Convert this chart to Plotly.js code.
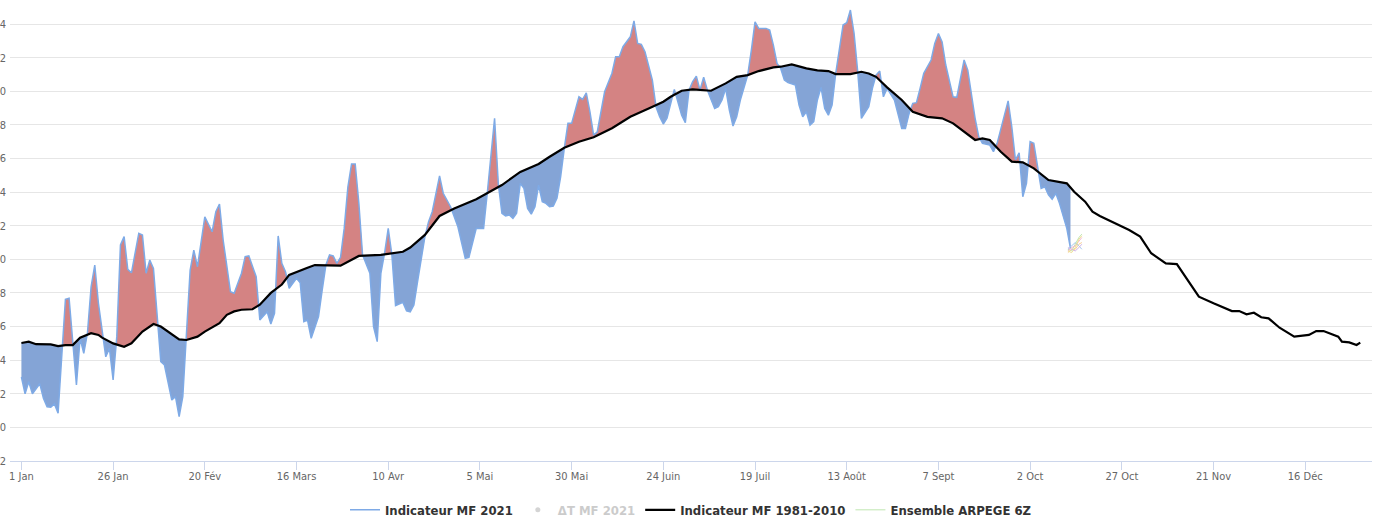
<!DOCTYPE html>
<html><head><meta charset="utf-8">
<script src="https://cdn.plot.ly/plotly-3.0.1.min.js"></script>
<style>html,body{margin:0;padding:0;background:#fff;overflow:hidden}#chart{width:1375px;height:528px}</style>
</head><body><div id="chart"></div>
<script>
// x axis: day of (leap) year, 0 = 1 Jan
const tickDays = [0,25,50,75,100,125,150,175,200,225,250,275,300,325,350];
const tickLabels = ['1 Jan','26 Jan','20 Fév','16 Mars','10 Avr','5 Mai','30 Mai','24 Juin','19 Juil','13 Août','7 Sept','2 Oct','27 Oct','21 Nov','16 Déc'];
// y axis: values and the (left-cropped) labels visible in the reference
const yTicks = [-2,0,2,4,6,8,10,12,14,16,18,20,22,24];
const yTickLabels = ['2','0','2','4','6','8','0','2','4','6','8','0','2','4'];

// Indicateur MF 2021
const obsDays = [0,1,2,3,5,6,7,8,9,10,12,13,15,16,17,18,19,20,21,23,24,25,26,27,28,29,30,32,33,34,35,36,38,39,41,42,43,44,46,47,48,50,52,53,54,55,57,58,60,61,62,63,64,65,67,68,69,70,71,72,73,75,76,77,78,79,81,82,83,84,85,86,87,88,89,90,91,92,93,95,96,97,98,99,100,101,102,104,105,106,107,108,110,111,112,114,115,117,119,121,122,124,126,127,129,130,131,132,133,134,135,136,137,138,139,140,141,142,143,144,145,146,147,148,149,150,152,153,154,155,156,157,159,161,162,163,164,166,167,168,169,170,172,173,174,175,176,178,179,180,181,182,183,184,185,186,187,188,189,190,191,192,193,194,195,196,198,199,200,201,203,204,205,206,207,208,209,211,212,213,214,215,216,217,218,219,220,221,222,224,225,226,227,228,229,231,232,233,234,235,236,238,239,240,241,242,243,244,245,246,248,249,250,251,252,253,254,255,256,257,258,259,260,261,262,264,265,266,268,269,270,271,272,273,274,275,276,277,278,279,280,281,282,283,284,285,286];
const obsVals = [3.0,2.0,2.72,2.0,2.6,1.73,1.23,1.2,1.4,0.84,7.62,7.68,2.52,5.3,4.41,5.6,8.37,9.66,7.38,4.2,4.7,2.82,5.4,10.85,11.35,9.4,9.2,11.55,11.45,9.17,9.96,9.46,3.91,3.71,1.63,1.83,0.64,1.83,9.36,10.55,9.56,12.53,11.64,12.83,13.29,11.15,8.07,7.98,9.17,10.16,10.2,9.56,8.97,6.39,6.88,6.15,6.79,11.39,9.76,9.26,8.28,8.87,8.61,6.29,6.39,5.3,6.59,8.17,9.66,10.26,10.2,9.76,10.12,11.84,14.3,15.67,15.67,13.33,10.26,9.17,5.99,5.1,9.17,10.36,11.84,10.26,7.24,7.44,6.94,6.88,7.28,8.67,11.35,12.24,12.83,14.96,13.93,13.13,11.94,10.06,10.12,11.84,11.84,13.93,18.39,14.52,12.74,12.58,12.64,12.44,12.74,14.52,14.22,13.03,12.69,13.13,14.42,13.43,13.33,13.13,13.17,13.63,14.91,16.6,18.09,18.09,19.67,19.52,19.91,18.78,17.39,17.59,19.97,21.07,22.05,22.05,22.65,23.24,24.19,22.85,22.79,22.35,20.67,19.08,18.48,18.05,18.39,20.11,19.38,18.58,18.13,20.07,20.57,20.9,20.07,20.83,20.07,19.48,18.98,19.08,19.48,20.17,18.88,17.93,18.48,19.48,20.96,22.45,24.13,23.74,23.74,23.64,22.75,21.66,21.36,20.67,20.51,20.37,19.18,18.48,18.78,17.99,18.19,19.48,20.23,18.98,18.58,19.18,21.07,23.94,24.08,24.83,23.44,21.16,18.39,19.08,20.17,20.96,21.2,19.67,20.17,19.48,18.68,17.79,17.79,18.68,19.28,19.32,20.17,21.07,21.86,22.85,23.44,22.94,21.56,20.57,19.67,19.64,20.77,21.86,21.26,19.67,18.39,17.29,16.9,16.8,16.4,16.9,18.58,19.43,17.89,15.91,16.34,13.72,14.52,17.0,16.9,15.51,14.22,14.32,13.83,13.57,13.93,13.33,12.53,11.84,10.65];

// Indicateur MF 1981-2010
const normDays = [0,2,4,8,10,12,14,16,19,21,22,25,28,30,33,36,38,40,43,45,48,50,54,56,58,60,63,65,68,71,73,78,80,87,90,92,98,101,104,106,110,114,117,118,124,127,131,136,141,144,148,152,156,161,166,171,175,177,180,183,188,192,195,198,201,205,207,210,214,217,220,222,226,229,231,233,236,240,243,247,251,254,257,260,262,264,267,270,273,276,280,284,285,287,290,292,294,302,305,308,312,315,321,325,330,332,334,336,338,340,343,347,349,351,353,355,359,360,362,364,365];
const normVals = [5.02,5.1,4.95,4.94,4.84,4.9,4.9,5.34,5.6,5.5,5.34,5.0,4.8,5.0,5.7,6.15,6.0,5.7,5.24,5.2,5.4,5.7,6.2,6.7,6.9,7.0,7.03,7.3,8.0,8.5,9.07,9.5,9.66,9.62,9.96,10.2,10.26,10.36,10.45,10.7,11.45,12.58,12.93,13.03,13.57,13.93,14.42,15.2,15.67,16.1,16.64,17.0,17.26,17.8,18.48,18.98,19.38,19.67,20.03,20.11,20.03,20.47,20.86,20.96,21.2,21.42,21.46,21.6,21.36,21.24,21.2,21.02,21.02,21.16,21.06,20.86,20.23,19.48,18.78,18.48,18.39,18.09,17.59,17.1,17.2,17.1,16.4,15.81,15.77,15.41,14.72,14.54,14.52,14.02,13.43,12.83,12.58,11.74,11.35,10.36,9.76,9.72,7.78,7.38,6.92,6.92,6.73,6.82,6.55,6.49,5.93,5.4,5.44,5.5,5.73,5.73,5.4,5.1,5.06,4.9,5.04];

// Ensemble ARPEGE 6Z (members)
const ensDays = [285.3, 286.3, 287.3, 288.3, 289.1];
const ensM1 = [10.6, 10.5, 10.9, 11.3, 11.5];
const ensM2 = [10.5, 10.7, 10.8, 11.1, 11.3];
const ensM3 = [10.4, 10.6, 10.6, 10.9, 11.0];
const ensM4 = [10.6, 10.8, 11.0, 10.8, 10.6];
const ensM5 = [10.5, 10.4, 10.7, 11.2, 11.4];
const ensM6 = [10.7, 10.6, 10.5, 10.7, 10.9];
const ensMembers = [ensM1, ensM2, ensM3, ensM4, ensM5, ensM6];
const ensColors = ['#bfe6b0','#f4b6cf','#f7cf94','#a9c8ee','#efe08f','#d3b6e6'];

function interp(xs, ys, x){
  if (x <= xs[0]) return ys[0];
  for (let i=1;i<xs.length;i++){
    if (x <= xs[i]){ const t=(x-xs[i-1])/(xs[i]-xs[i-1]); return ys[i-1]+t*(ys[i]-ys[i-1]); }
  }
  return ys[ys.length-1];
}
// fill geometry between the two lines
const lastDay = obsDays[obsDays.length-1];
let grid = Array.from(new Set(obsDays.concat(normDays.filter(d=>d<=lastDay)))).sort((a,b)=>a-b);
let gx=[], go=[], gn=[];
for (let i=0;i<grid.length;i++){
  const x=grid[i], o=interp(obsDays,obsVals,x), n=interp(normDays,normVals,x);
  if (i>0){
    const dp=go[go.length-1]-gn[gn.length-1], dc=o-n;
    if (dp*dc<0){ const xp=gx[gx.length-1]; const t=dp/(dp-dc); const xc=xp+t*(x-xp);
      const v=interp(normDays,normVals,xc); gx.push(xc); go.push(v); gn.push(v); }
  }
  gx.push(x); go.push(o); gn.push(n);
}
const hi = go.map((o,i)=>Math.max(o,gn[i]));
const lo = go.map((o,i)=>Math.min(o,gn[i]));

const FONT = '"DejaVu Sans Condensed", "DejaVu Sans", sans-serif';
const traces = [
  {x:gx, y:gn, mode:'lines', line:{width:0}, showlegend:false, hoverinfo:'skip'},
  {x:gx, y:hi, mode:'lines', line:{width:0}, fill:'tonexty', fillcolor:'#d48383', showlegend:false, hoverinfo:'skip'},
  {x:gx, y:gn, mode:'lines', line:{width:0}, showlegend:false, hoverinfo:'skip'},
  {x:gx, y:lo, mode:'lines', line:{width:0}, fill:'tonexty', fillcolor:'#84a4d6', showlegend:false, hoverinfo:'skip'},
  {x:obsDays, y:obsVals, mode:'lines', name:'Indicateur MF 2021', line:{color:'#7eaae6', width:1.5}},
  {x:[null], y:[null], mode:'markers', name:'<span style="color:#999">ΔT MF 2021</span>', visible:'legendonly', marker:{color:'#aaa', size:5}},
  {x:normDays, y:normVals, mode:'lines', name:'Indicateur MF 1981-2010', line:{color:'#000', width:2.2}}
];
ensMembers.forEach((m,k)=>{
  traces.push({x:ensDays, y:m, mode:'lines', name:'Ensemble ARPEGE 6Z', legendgroup:'ens', showlegend:k===0,
    line:{color:ensColors[k], width:1}});
});

const layout = {
  width:1375, height:528,
  margin:{l:10, r:3, t:0, b:67},
  paper_bgcolor:'#fff', plot_bgcolor:'#fff',
  font:{family:FONT, color:'#666', size:11},
  xaxis:{range:[-3.11,368.2], tickvals:tickDays, ticktext:tickLabels, showgrid:false, zeroline:false,
    showline:true, linecolor:'#ccd6eb', linewidth:1, ticks:'outside', ticklen:8, tickcolor:'#ccd6eb',
    ticklabelstandoff:-3, tickfont:{family:FONT, color:'#666', size:11}},
  yaxis:{range:[-2,25.43], tickvals:yTicks, ticktext:yTickLabels, showgrid:true, gridcolor:'#e6e6e6', gridwidth:1, zeroline:false,
    showline:false, ticks:'', ticklabelstandoff:3, tickfont:{family:FONT, color:'#666', size:11}},
  legend:{orientation:'h', x:0.5, xanchor:'center', y:-0.106, yanchor:'middle', itemwidth:30,
    font:{family:FONT, size:13, color:'#333', weight:'bold'}, bgcolor:'rgba(0,0,0,0)'},
  showlegend:true
};
Plotly.newPlot('chart', traces, layout, {displayModeBar:false, staticPlot:true});
</script></body></html>
